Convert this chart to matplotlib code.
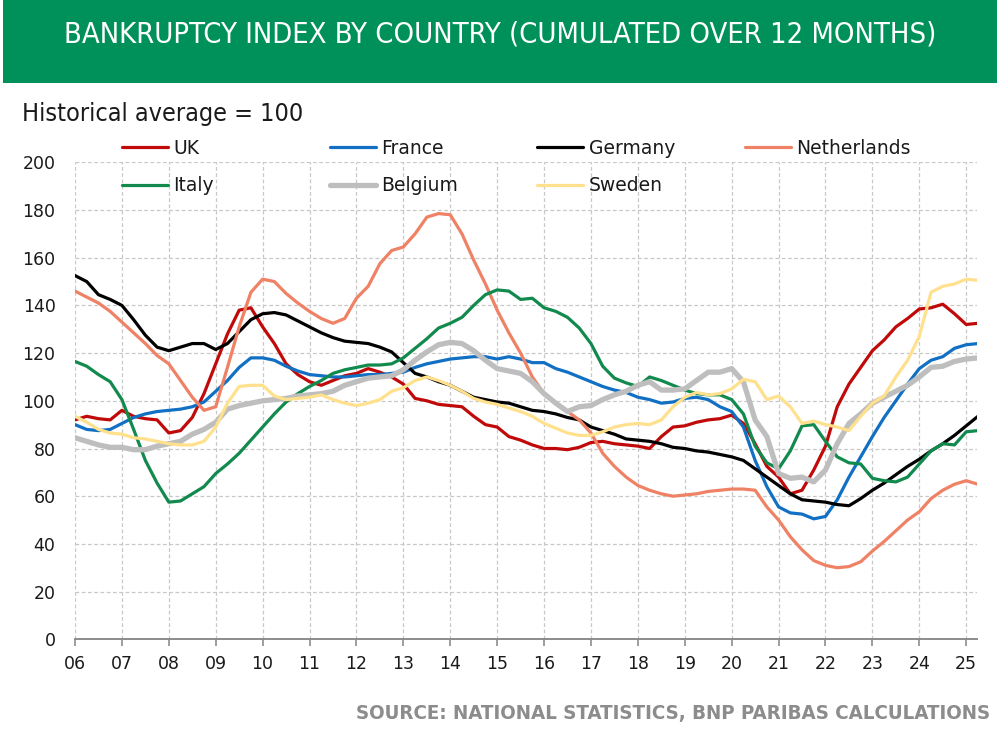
import numpy as np
import matplotlib
matplotlib.use('Agg')
import matplotlib.pyplot as plt
from matplotlib import font_manager as fm
from matplotlib.patches import Rectangle

# ---------------- data (quarterly, 2006Q1 .. 2025Q2) ----------------
start_year = 2006
n_points = 78
x_years = start_year + np.arange(n_points) / 4.0

uk = [92, 93.5, 92.5, 92,
      96, 93.5, 92.5, 92,
      86.5, 87.5, 93, 103,
      115.5, 128, 138, 139,
      131, 124, 115.5, 111,
      108, 106.5, 108.5, 110.5,
      111.5, 113.5, 112, 110,
      107, 101, 100, 98.5,
      98, 97.5, 93.5, 90,
      89, 85, 83.5, 81.5,
      80, 80, 79.5, 80.5,
      82.5, 83, 82, 81.5,
      81, 80, 85, 89,
      89.5, 91, 92, 92.5,
      94, 90.5, 82, 72.5,
      68, 61, 62.5, 71,
      81, 97.5, 107, 114,
      121, 125.5, 131, 134.5,
      138.5, 139, 140.5, 136.5,
      132, 132.5]

france = [90, 88, 87.5, 88,
          90.5, 93, 94.5, 95.5,
          96, 96.5, 97.5, 99.5,
          104, 108.5, 114, 118,
          118, 117, 114.5, 112.5,
          111, 110.5, 110, 110,
          110.5, 111, 111, 111.5,
          112, 114, 115.5, 116.5,
          117.5, 118, 118.5, 118.5,
          117.5, 118.5, 117.5, 116,
          116, 113.5, 112, 110,
          108, 106, 104.5, 103.5,
          101.5, 100.5, 99, 99.5,
          101, 101.5, 100.5, 97.5,
          95.5, 89, 75, 64,
          55.5, 53, 52.5, 50.5,
          51.5, 58.5, 68, 76.5,
          85, 93, 100, 107,
          113.5, 117, 118.5, 122,
          123.5, 124]

germany = [152.5, 150, 144.5, 142.5,
           140, 134, 127.5, 122.5,
           121, 122.5, 124, 124,
           121.5, 124, 129, 134,
           136.5, 137, 136, 133.5,
           131, 128.5, 126.5, 125,
           124.5, 124, 122.5, 120.5,
           116, 111.5, 110, 108,
           106.5, 104, 101.5, 100.5,
           99.5, 99, 97.5, 96,
           95.5, 94.5, 93, 92,
           89, 87.5, 86, 84,
           83.5, 83, 82, 80.5,
           80, 79, 78.5, 77.5,
           76.5, 75, 71.5, 68,
           64.5, 61, 58.5, 58,
           57.5, 56.5, 56, 59,
           62.5, 65.5, 69, 72.5,
           75.5, 79, 82, 85.5,
           89.5, 93.5]

netherlands = [146, 143.5, 141, 137.5,
               133, 128.5, 124, 119,
               115.5, 108.5, 101.5, 96,
               97.5, 114, 131, 145.5,
               151, 150, 145, 141,
               137.5, 134.5, 132.5, 134.5,
               143, 148, 157.5, 163,
               164.5, 170, 177, 178.5,
               178, 170, 159, 149,
               138, 128.5, 120, 110,
               103, 99, 95.5, 92,
               86.5, 78, 72.5, 68,
               64.5, 62.5, 61, 60,
               60.5, 61, 62, 62.5,
               63, 63, 62.5, 55.5,
               50, 43, 37.5, 33,
               31, 30, 30.5, 32.5,
               37, 41, 45.5, 50,
               53.5, 59, 62.5, 65,
               66.5, 65]

italy = [116.5, 114.5, 111, 108,
         100.5, 88, 75, 65.5,
         57.5, 58, 61, 64,
         69.5, 73.5, 78, 83.5,
         89, 94.5, 99.5, 103,
         106, 108.5, 111.5, 113,
         114, 115, 115, 115.5,
         118, 122, 126, 130.5,
         132.5, 135, 140, 144.5,
         146.5, 146, 142.5, 143,
         139, 137.5, 135, 130.5,
         124, 114.5, 109.5, 107.5,
         106, 110, 108.5, 106.5,
         104.5, 103, 102.5, 102.5,
         100.5, 94.5, 81, 74,
         71.5, 79, 89.5, 90,
         83, 76.5, 74, 73.5,
         67.5, 66.5, 66, 68,
         73.5, 79, 82, 81.5,
         87, 87.5]

belgium = [84.5, 83, 81.5, 80.5,
           80.5, 79.5, 79.5, 81,
           82, 83, 86, 88,
           91, 96.5, 98, 99,
           100, 100.5, 101, 102,
           102.5, 103, 104, 106.5,
           108, 109.5, 110, 110.5,
           113, 117, 120.5, 123.5,
           124.5, 124, 121, 117,
           113.5, 112.5, 111.5, 108,
           103, 99, 95.5, 97.5,
           98, 100.5, 102.5, 104,
           106.5, 108, 104.5, 104.5,
           105, 108.5, 112, 112,
           113.5, 108, 92, 85,
           69.5, 67.5, 68, 66,
           71, 82, 90.5, 94.5,
           99, 101.5, 104, 106.5,
           110, 114, 114.5, 116.5,
           117.5, 118]

sweden = [93.5, 91, 88, 86.5,
          86, 84.5, 84, 83,
          82, 81.5, 81.5, 83,
          89, 99, 106, 106.5,
          106.5, 102, 100.5, 101,
          101.5, 102.5, 100.5, 99,
          98, 99, 100.5, 104,
          105.5, 108.5, 110, 108.5,
          106.5, 104, 101, 99.5,
          98.5, 97, 95.5, 93.5,
          90.5, 88.5, 86.5, 85.5,
          85.5, 87, 89, 90,
          90.5, 90, 92, 97.5,
          101.5, 103.5, 102.5, 103,
          105, 109, 108, 100.5,
          102, 97.5, 90.5, 91.5,
          90, 89, 87.5, 93.5,
          99, 102, 110, 117,
          127, 145.5, 148, 149,
          151, 150.5]

series_names = ['UK', 'France', 'Germany', 'Netherlands', 'Italy', 'Belgium', 'Sweden']
series_values = [uk, france, germany, netherlands, italy, belgium, sweden]
series_colors = ['#C00A0A', '#1170C4', '#000000', '#EF8165', '#128A4E', '#BEBEBE', '#FFE08C']
series_widths = [2.3, 2.3, 2.3, 2.3, 2.3, 3.8, 2.3]

year_ticks = list(range(2006, 2026))
year_labels = ['%02d' % (y % 100) for y in year_ticks]
y_ticks = list(range(0, 201, 20))

title = 'BANKRUPTCY INDEX BY COUNTRY (CUMULATED OVER 12 MONTHS)'
subtitle = 'Historical average = 100'
source = 'SOURCE: NATIONAL STATISTICS, BNP PARIBAS CALCULATIONS'

# ---------------- fonts ----------------
def find_font(patterns):
    for pat in patterns:
        for f in fm.fontManager.ttflist:
            if pat.lower() in f.fname.lower():
                return fm.FontProperties(fname=f.fname)
    return None

cond_fp = find_font(['LiberationSansNarrow-Regular', 'DejaVuSansCondensed.ttf',
                     'RobotoCondensed-Regular', 'OpenSans_Condensed'])
cond_bold_fp = find_font(['LiberationSansNarrow-Bold.', 'DejaVuSansCondensed-Bold.ttf',
                          'RobotoCondensed-Medium', 'RobotoCondensed-Bold'])
if cond_fp is None:
    cond_fp = fm.FontProperties(family='Roboto')
if cond_bold_fp is None:
    cond_bold_fp = fm.FontProperties(family='Roboto', weight='medium')

W, H = 1000, 732
fig = plt.figure(figsize=(W / 100, H / 100), dpi=100)
fig.patch.set_facecolor('white')

# header band
fig.add_artist(Rectangle((3 / W, 1 - 83 / H), 994 / W, 83 / H, transform=fig.transFigure,
                         facecolor='#00915A', edgecolor='none', zorder=0))

renderer = fig.canvas.get_renderer()

def fit_text(x, y, s, width_px, fp, size0, **kw):
    t = fig.text(x, y, s, fontproperties=fp, fontsize=size0, **kw)
    bb = t.get_window_extent(renderer=renderer)
    t.set_fontsize(size0 * width_px / bb.width)
    return t

fit_text(0.5, 1 - 34 / H, title, 875, cond_fp, 20, color='white',
         ha='center', va='center')
fit_text(22 / W, 1 - 114 / H, subtitle, 284, cond_fp, 16, color='#1a1a1a',
         ha='left', va='center')
fit_text(990 / W, 1 - 714 / H, source, 638, cond_bold_fp, 14, color='#8C8C8C',
         ha='right', va='center')

# ---------------- axes ----------------
ax = fig.add_axes([75 / W, 1 - 639.3 / H, 902 / W, (639.3 - 162.3) / H])
lines = []
for name, vals, col, lw in zip(series_names, series_values, series_colors, series_widths):
    ln, = ax.plot(x_years, vals, color=col, lw=lw, label=name, solid_capstyle='round',
                  solid_joinstyle='round', zorder=3)
    lines.append(ln)

ax.set_xlim(2006, 2025.23)
ax.set_ylim(0, 200)
ax.set_yticks(y_ticks)
ax.set_xticks(year_ticks)
ax.set_xticklabels(year_labels)
ax.grid(True, color='#C8C8C8', linestyle=(0, (3, 2)), linewidth=0.9, zorder=0)
for sp in ['top', 'right', 'left']:
    ax.spines[sp].set_visible(False)
ax.spines['bottom'].set_color('#8C8C8C')
ax.spines['bottom'].set_linewidth(1.4)
ax.spines['bottom'].set_zorder(4)
ax.tick_params(axis='y', length=0, pad=14, labelsize=12.5, labelcolor='#1a1a1a')
ax.tick_params(axis='x', length=5, width=1.2, color='#8C8C8C', pad=6,
               labelsize=12.5, labelcolor='#1a1a1a')
ax.set_axisbelow(True)

# ---------------- legend (4 columns, 2 rows) ----------------
col_x = [122, 330, 537, 745]
cols = [[0, 4], [1, 5], [2, 6], [3]]
for ci, idxs in enumerate(cols):
    leg = fig.legend([lines[i] for i in idxs], [series_names[i] for i in idxs],
                     loc='upper left', bbox_to_anchor=(col_x[ci] / W, 1 - 139 / H),
                     bbox_transform=fig.transFigure, frameon=False,
                     borderpad=0, borderaxespad=0, handlelength=2.45,
                     handletextpad=0.3, labelspacing=0.97, fontsize=13.5)
    for t in leg.get_texts():
        t.set_color('#1a1a1a')

fig.savefig('out.png', dpi=100, facecolor='white')
